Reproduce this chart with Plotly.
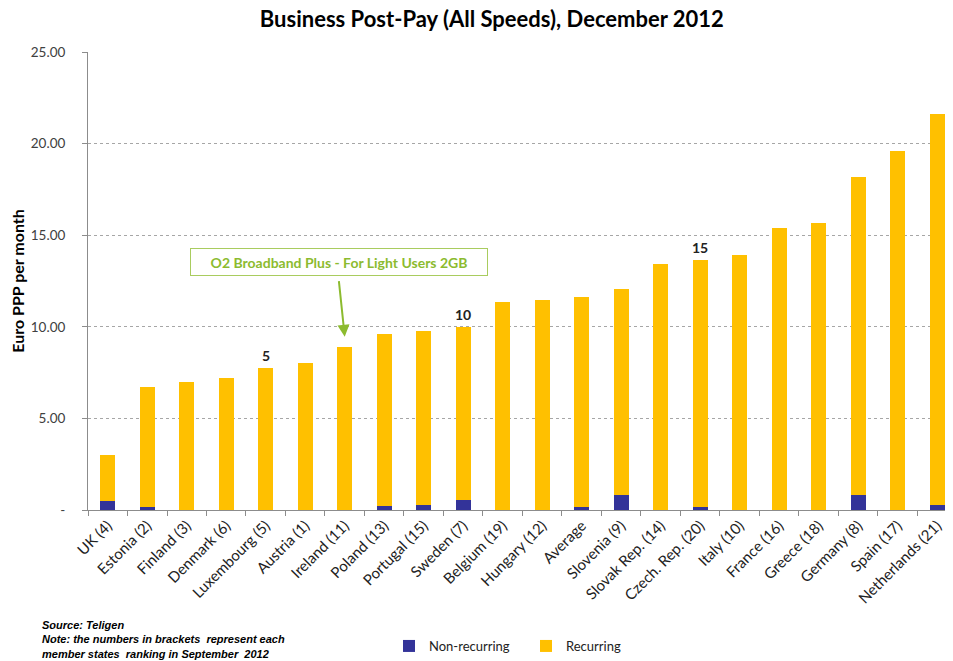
import plotly.graph_objects as go

# Categorias (ranking de setembro 2012 entre parênteses)
countries = ['UK (4)', 'Estonia (2)', 'Finland (3)', 'Denmark (6)', 'Luxembourg (5)',
             'Austria (1)', 'Ireland (11)', 'Poland (13)', 'Portugal (15)', 'Sweden (7)',
             'Belgium (19)', 'Hungary (12)', 'Average', 'Slovenia (9)', 'Slovak Rep. (14)',
             'Czech. Rep. (20)', 'Italy (10)', 'France (16)', 'Greece (18)', 'Germany (8)',
             'Spain (17)', 'Netherlands (21)']

# Valores (Euro PPP por mês)
non_recurring = [0.48, 0.18, 0.0, 0.0, 0.0, 0.0, 0.0, 0.22, 0.28, 0.57,
                 0.0, 0.0, 0.18, 0.80, 0.0, 0.14, 0.0, 0.0, 0.0, 0.80,
                 0.0, 0.25]
totals = [2.98, 6.70, 6.96, 7.23, 7.77, 8.02, 8.88, 9.61, 9.79, 10.00,
          11.34, 11.45, 11.62, 12.04, 13.45, 13.62, 13.91, 15.41, 15.64, 18.16,
          19.57, 21.62]
recurring = [round(t - n, 2) for t, n in zip(totals, non_recurring)]

# Marcadores de posição no ranking
rank_marks = {'Luxembourg (5)': '5', 'Sweden (7)': '10', 'Czech. Rep. (20)': '15'}

y_ticks = [0, 5, 10, 15, 20, 25]
y_ticklabels = ['-', '5.00', '10.00', '15.00', '20.00', '25.00']

fig = go.Figure()
fig.add_trace(go.Bar(name='Non-recurring', x=countries, y=non_recurring,
                     marker_color='#333399', marker_line_width=0))
fig.add_trace(go.Bar(name='Recurring', x=countries, y=recurring,
                     marker_color='#FFC000', marker_line_width=0))

# Números do ranking acima das barras
for name, label in rank_marks.items():
    i = countries.index(name)
    fig.add_annotation(x=name, y=totals[i], text='<b>' + label + '</b>',
                       showarrow=False, yanchor='bottom', yshift=2,
                       font=dict(family='Lato', size=14, color='#222222'))

# Caixa verde com a seta
green = '#8CBB2F'
fig.add_annotation(x=5.85, y=13.53, xref='x', yref='y',
                   text='<b>O2 Broadband Plus - For Light Users 2GB</b>',
                   showarrow=False, font=dict(family='Lato', size=14, color=green),
                   bordercolor='#A9CC5F', borderwidth=1, borderpad=5,
                   width=286, height=16, bgcolor='white')
fig.add_annotation(x=countries[6], y=9.46, ax=-6, ay=-57,
                   showarrow=True, arrowhead=2, arrowsize=1.2, arrowwidth=2,
                   arrowcolor=green, text='')

# Fonte e nota
fig.add_annotation(xref='paper', yref='paper', x=-0.0555, y=-0.233,
                   xanchor='left', yanchor='top', align='left', showarrow=False,
                   text='<b><i>Source: Teligen<br>Note: the numbers in brackets  represent each<br>'
                        'member states  ranking in September  2012</i></b>',
                   font=dict(family='Liberation Sans', size=11, color='black'))

# a página tem margem de 8px no body: figura 945x653
fig.update_layout(
    width=945, height=653,
    margin=dict(l=80, r=0, t=44, b=136),
    title=dict(text='<b>Business Post-Pay (All Speeds), December 2012</b>',
               x=0.512, xanchor='center', y=1, yanchor='top', pad=dict(t=4),
               font=dict(family='Lato', size=22, color='black')),
    barmode='stack', bargap=0.61,
    plot_bgcolor='white', paper_bgcolor='white',
    font=dict(family='Lato', color='#404040'),
    legend=dict(orientation='h', x=0.348, y=-0.2645, xanchor='left', yanchor='top',
                font=dict(family='Lato', size=13, color='#222222'),
                itemwidth=30, entrywidth=92, traceorder='normal'),
    showlegend=True,
)
fig.update_yaxes(range=[0, 25], tickvals=y_ticks, ticktext=y_ticklabels, automargin=False,
                 showgrid=True, gridcolor='#A6A6A6', griddash='3px,3px', gridwidth=1,
                 showline=True, linecolor='#8C8C8C', ticks='outside', ticklen=5,
                 tickcolor='#8C8C8C', zeroline=False, ticklabelstandoff=14,
                 tickfont=dict(family='Lato', size=13.5, color='#404040'),
                 title=dict(text='<b>Euro PPP per month</b>', standoff=4,
                            font=dict(family='Lato', size=16, color='black')))
fig.update_xaxes(range=[-0.5, 21.4], tickangle=-45, tickson='boundaries', automargin=False,
                 showline=True, linecolor='#8C8C8C', ticks='outside', ticklen=5,
                 tickcolor='#8C8C8C', showgrid=False,
                 tickfont=dict(family='Lato', size=15, color='#222222'))

fig.write_html('out.html')
